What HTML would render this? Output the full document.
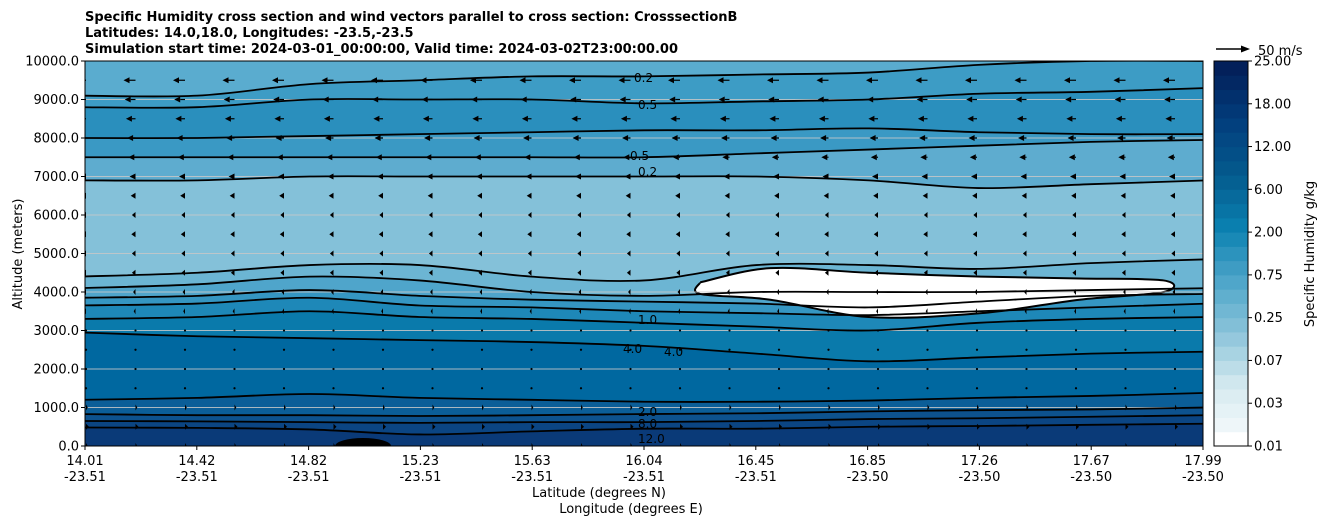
<!DOCTYPE html>
<html><head><meta charset="utf-8"><style>
body{margin:0;background:#fff;font-family:"DejaVu Sans",sans-serif;}
svg text{font-family:"DejaVu Sans",sans-serif;}
</style></head><body>
<svg id="c" width="1326" height="526" xmlns="http://www.w3.org/2000/svg">
<text x="85" y="21" font-size="13" font-weight="bold">Specific Humidity cross section and wind vectors parallel to cross section: CrosssectionB</text>
<text x="85" y="37" font-size="13" font-weight="bold">Latitudes: 14.0,18.0, Longitudes: -23.5,-23.5</text>
<text x="85" y="53" font-size="13" font-weight="bold">Simulation start time: 2024-03-01_00:00:00, Valid time: 2024-03-02T23:00:00.00</text>
<defs><clipPath id="pc"><rect x="85" y="61" width="1118" height="385"/></clipPath></defs>
<g id="plot" clip-path="url(#pc)"></g>
<g id="axes"></g>
</svg>
<script>
const lats=[14.01,14.41,14.81,15.2,15.6,16.0,16.4,16.8,17.19,17.59,17.99];
const xTickLats=["14.01","14.42","14.82","15.23","15.63","16.04","16.45","16.85","17.26","17.67","17.99"];
const xTickLons=["-23.51","-23.51","-23.51","-23.51","-23.51","-23.51","-23.51","-23.50","-23.50","-23.50","-23.50"];
const yTicks=[0,1000,2000,3000,4000,5000,6000,7000,8000,9000,10000];
const cbLabels=["0.01","0.03","0.07","0.25","0.75","2.00","6.00","12.00","18.00","25.00"];
const b1=[480,470,430,300,380,450,450,500,520,550,580];
const b2=[650,640,620,600,620,620,650,700,720,760,800];
const b3=[830,800,800,780,800,830,850,900,930,950,1000];
const b4=[1200,1250,1350,1250,1200,1150,1150,1180,1250,1300,1380];
const b5=[2950,2850,2800,2750,2700,2600,2400,2200,2300,2400,2450];
const b6=[3300,3350,3500,3350,3300,3200,3100,3000,3200,3300,3350];
const b7=[3650,3700,3850,3650,3600,3500,3450,3400,3500,3600,3700];
const b8=[3850,3900,4050,3900,3800,3750,3700,3600,3750,3900,3950];
const b9=[4100,4200,4400,4300,4000,3900,4000,4000,4000,4050,4100];
const b10=[4400,4500,4700,4700,4400,4300,4700,4700,4600,4750,4850];
const b11=[6900,6900,7000,7000,7000,7000,7000,6900,6700,6800,6900];
const b12=[7500,7500,7500,7500,7500,7500,7600,7700,7800,7900,7950];
const b13=[8000,8000,8050,8100,8150,8200,8200,8250,8150,8100,8100];
const b14=[8800,8800,9000,9000,9000,8900,8950,9000,9150,9200,9300];
const b15=[9100,9100,9400,9500,9600,9600,9650,9700,9900,10000,10000];
const windRowsAlt=[0,500,1000,1500,2000,2500,3000,3500,4000,4500,5000,5500,6000,6500,7000,7500,8000,8500,9000,9500];
const windU=[3,5,3,0.5,0.5,0.5,-1,-3,-4,-6,-6,-7,-6,-8,-10,-12,-14,-16,-18,-20];
const dryLat=[16.2,16.45,16.8,17.2,17.55,17.85];
const dryTop=[4250,4620,4500,4400,4350,4300];
const dryBot=[3950,3800,3350,3450,3800,4000];

const X0=85,X1=1203,Y0=446,Y1=61;
const xs=l=>X0+(l-14.01)/(17.99-14.01)*(X1-X0);
const ys=a=>Y0-a/10000*(Y0-Y1);
const NS="http://www.w3.org/2000/svg";
const svg=document.getElementById('c'),plot=document.getElementById('plot'),axes=document.getElementById('axes');
function mk(t,p,a){const e=document.createElementNS(NS,t);for(const k in a)e.setAttribute(k,a[k]);p.appendChild(e);return e;}
function spline(pts){let d="M"+pts[0][0]+","+pts[0][1];for(let i=0;i<pts.length-1;i++){const p0=pts[i-1]||pts[i],p1=pts[i],p2=pts[i+1],p3=pts[i+2]||p2;
d+=" C"+(p1[0]+(p2[0]-p0[0])/6)+","+(p1[1]+(p2[1]-p0[1])/6)+" "+(p2[0]-(p3[0]-p1[0])/6)+","+(p2[1]-(p3[1]-p1[1])/6)+" "+p2[0]+","+p2[1];}return d;}
function line(b){const pts=lats.map((l,i)=>[xs(l),ys(b[i])]);pts[0][0]=X0-5;pts[pts.length-1][0]=X1+5;return spline(pts);}
const bg=mk('rect',plot,{x:X0,y:Y1,width:X1-X0,height:Y0-Y1,fill:'#5aaccf'});

const bands=[[b15,'#3d9cc5'],[b14,'#2a8fbd'],[b13,'#3a99c4'],[b12,'#5eaccf'],[b11,'#84c1d9'],[b10,'#6cb5d3'],[b9,'#4fa5cb'],[b8,'#3596c2'],[b7,'#1e88b8'],[b6,'#0a7aab'],[b5,'#0068a0'],[b4,'#0b5e98'],[b3,'#0d528e'],[b2,'#0b4583'],[b1,'#0a3a78']];
bands.forEach((bd,i)=>{const p=mk('path',plot,{d:line(bd[0])+" L"+(X1+5)+","+(Y0+5)+" L"+(X0-5)+","+(Y0+5)+"Z",fill:bd[1]});
});
const dp=dryLat.map((l,i)=>[xs(l),ys(dryTop[i])]).concat(dryLat.map((l,i)=>[xs(l),ys(dryBot[i])]).reverse());
const dry=mk('path',plot,{d:spline(dp.concat([dp[0]])),fill:'#fff'});

const dl=mk('path',plot,{d:spline(dp.concat([dp[0]])),fill:'none',stroke:'#000','stroke-width':2});

const bump=mk('ellipse',plot,{cx:xs(15.0),cy:Y0,rx:28,ry:8,fill:'#000'});

yTicks.forEach(v=>{const g=mk('line',plot,{x1:X0,x2:X1,y1:ys(v),y2:ys(v),stroke:'#c8c8c8','stroke-width':1,opacity:0.85});
});
[b1,b2,b3,b4,b5,b6,b7,b8,b9,b10,b11,b12,b13,b14,b15].forEach((b,i)=>{const c=mk('path',plot,{d:line(b),fill:'none',stroke:'#000','stroke-width':1.8});
});
[[638,416,'2.0'],[638,428,'8.0'],[638,443,'12.0'],[623,353,'4.0'],[664,356,'4.0'],[638,324,'1.0'],[630,160,'0.5'],[638,176,'0.2'],[638,109,'0.5'],[634,82,'0.2']].forEach(t=>{
const e=mk('text',plot,{x:t[0],y:t[1],'font-size':12});e.textContent=t[2];
});
const sc=0.6;
windRowsAlt.forEach((a,r)=>{for(let i=0;i<23;i++){const x=86+i*49.5,y=ys(a),u=windU[r]*sc;
const g=mk('g',plot,{});
if(Math.abs(u)<1.5){mk('circle',g,{cx:x,cy:y,r:1.1,fill:'#000'});continue;}
const s=Math.sign(u),h=Math.min(6,Math.abs(u));
mk('line',g,{x1:x,y1:y,x2:x+u-s*h,y2:y,stroke:'#000','stroke-width':1.2});
mk('path',g,{d:`M${x+u},${y} L${x+u-s*h},${y-3} L${x+u-s*h},${y+3}Z`,fill:'#000'});}});
const fr=mk('rect',axes,{x:X0,y:Y1,width:X1-X0,height:Y0-Y1,fill:'none',stroke:'#000','stroke-width':1});

yTicks.forEach(v=>{mk('line',axes,{x1:X0-4,x2:X0,y1:ys(v),y2:ys(v),stroke:'#000'});
const t=mk('text',axes,{x:X0-6,y:ys(v)+4.5,'font-size':13,'text-anchor':'end'});t.textContent=v.toFixed(1);
});
xTickLats.forEach((l,i)=>{const x=X0+i*(X1-X0)/10;mk('line',axes,{x1:x,x2:x,y1:Y0,y2:Y0+4,stroke:'#000'});
const t=mk('text',axes,{x:x,y:465,'font-size':13,'text-anchor':'middle'});t.textContent=l;

const t2=mk('text',axes,{x:x,y:481,'font-size':13,'text-anchor':'middle'});t2.textContent=xTickLons[i];
});
let t=mk('text',axes,{x:599,y:497,'font-size':13,'text-anchor':'middle'});t.textContent='Latitude (degrees N)';

t=mk('text',axes,{x:631,y:513,'font-size':13,'text-anchor':'middle'});t.textContent='Longitude (degrees E)';

t=mk('text',axes,{x:22,y:254,'font-size':13,'text-anchor':'middle',transform:'rotate(-90 22 254)'});t.textContent='Altitude (meters)';

const stops=[[247,251,252],[214,234,240],[140,196,218],[77,165,201],[10,128,176],[4,90,141],[2,62,125],[3,32,90]];
function ramp(f){const p=f*(stops.length-1),i=Math.min(stops.length-2,Math.floor(p)),r=p-i;return 'rgb('+stops[i].map((c,k)=>Math.round(c+(stops[i+1][k]-c)*r)).join(',')+')';}
const CB0=1214,CB1=1248,nb=27;
for(let i=0;i<nb;i++){const h=(Y0-Y1)/nb;const r=mk('rect',axes,{x:CB0,y:Y0-(i+1)*h,width:CB1-CB0,height:h+0.5,fill:i==0?'#fff':ramp(i/(nb-1))});
}
mk('rect',axes,{x:CB0,y:Y1,width:CB1-CB0,height:Y0-Y1,fill:'none',stroke:'#000'});
cbLabels.forEach((l,i)=>{const y=Y0-i*(Y0-Y1)/9;mk('line',axes,{x1:CB1,x2:CB1+4,y1:y,y2:y,stroke:'#000'});
const e=mk('text',axes,{x:CB1+6,y:y+4.5,'font-size':13});e.textContent=l;
});
t=mk('text',axes,{x:1314,y:254,'font-size':13,'text-anchor':'middle',transform:'rotate(-90 1314 254)'});t.textContent='Specific Humidity g/kg';

const k=mk('g',axes,{});
mk('line',k,{x1:1216,x2:1243,y1:49,y2:49,stroke:'#000','stroke-width':1.5});
mk('path',k,{d:'M1250,49 L1241,45.5 L1241,52.5Z',fill:'#000'});
t=mk('text',k,{x:1258,y:55,'font-size':13});t.textContent='50 m/s';
</script>
</body></html>
